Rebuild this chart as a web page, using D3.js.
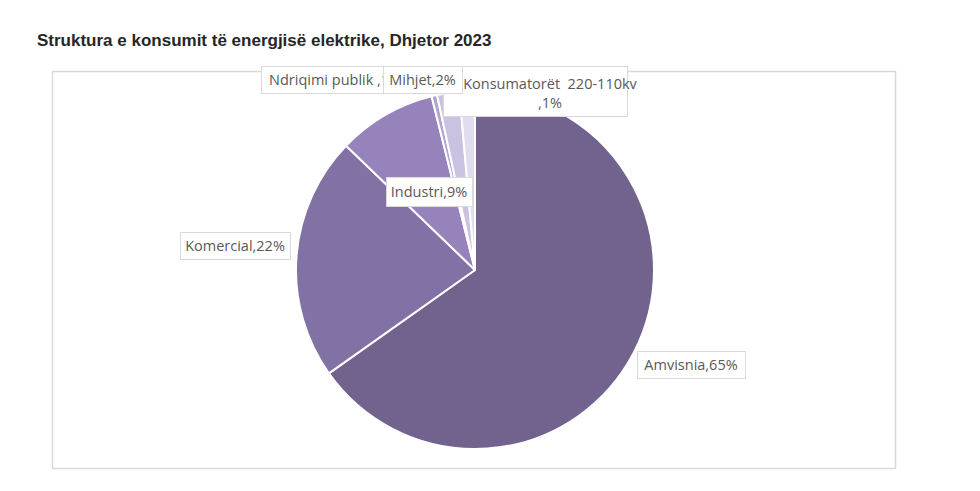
<!DOCTYPE html>
<html>
<head>
<meta charset="utf-8">
<script src="https://cdn.jsdelivr.net/npm/d3@7"></script>
<style>
  body { margin: 0; background: #fff; }
  svg text { font-family: "Open Sans", sans-serif; white-space: pre; }
</style>
</head>
<body>
<div id="viz"></div>
<script>
(function () {
  // data
  var categories = ['Amvisnia', 'Komercial', 'Industri', 'Ndriqimi publik ', 'Mihjet', 'Konsumatorët  220-110kv'];
  var shares = [65.2, 22.0, 8.9, 0.5, 2.0, 1.4];
  var percentLabels = ['65%', '22%', '9%', '1%', '2%', '1%'];

  var colors = ['#72628e', '#8271a5', '#9783bc', '#b2a4d0', '#cbc1e1', '#e1dcee'];

  var width = 980, height = 491;
  var cx = 475, cy = 270, radius = 179;

  // label boxes [x, y, w, h], drawn in this order
  var labelBoxes = {
    0: [637, 351, 108, 27],
    1: [180, 232, 110, 27],
    2: [386, 177, 86, 29],
    3: [261, 66, 130, 27],
    5: [443, 66, 184, 50],
    4: [383, 66, 79, 27]
  };
  var labelOrder = [0, 1, 2, 3, 5, 4];

  var svg = d3.select("#viz")
    .append("svg")
    .attr("width", width)
    .attr("height", height);

  // the Mihjet box hides the end of the Ndriqimi label
  svg.append("defs").append("clipPath")
    .attr("id", "clipNdr")
    .append("rect")
    .attr("x", 261).attr("y", 60).attr("width", 122).attr("height", 40);

  svg.append("text")
    .attr("x", 37)
    .attr("y", 46)
    .style("font-family", "'Liberation Sans', Arial, sans-serif")
    .style("font-weight", "bold")
    .style("font-size", "17px")
    .attr("fill", "#262626")
    .text("Struktura e konsumit të energjisë elektrike, Dhjetor 2023");

  // plot area frame
  svg.append("rect")
    .attr("x", 52.5)
    .attr("y", 71.5)
    .attr("width", 843)
    .attr("height", 397)
    .attr("fill", "none")
    .attr("stroke", "#d9d9d9")
    .attr("stroke-width", 1.5);

  var pie = d3.pie().sort(null).value(function (d) { return d; });
  var arc = d3.arc().innerRadius(0).outerRadius(radius);

  svg.append("g")
    .attr("transform", "translate(" + cx + "," + cy + ")")
    .selectAll("path")
    .data(pie(shares))
    .enter().append("path")
    .attr("d", arc)
    .attr("fill", function (d, i) { return colors[i]; })
    .attr("stroke", "#fff")
    .attr("stroke-width", 2)
    .attr("stroke-linejoin", "round");

  var labels = svg.append("g");
  labelOrder.forEach(function (i) {
    var b = labelBoxes[i];
    var g = labels.append("g");
    g.append("rect")
      .attr("x", b[0] + 0.5)
      .attr("y", b[1] + 0.5)
      .attr("width", b[2])
      .attr("height", b[3])
      .attr("fill", "#fff")
      .attr("stroke", "#d9d9d9")
      .attr("stroke-width", 1);
    var t = g.append("text")
      .attr("fill", "#595959")
      .style("font-size", "14.5px");
    if (i == 5) {
      t.attr("text-anchor", "middle");
      t.append("tspan").attr("x", 550).attr("y", b[1] + 23).text(categories[i]);
      t.append("tspan").attr("x", 550).attr("y", b[1] + 42).text(',' + percentLabels[i]);
    } else if (i == 3) {
      t.attr("x", b[0] + 8).attr("y", b[1] + 19)
        .attr("clip-path", "url(#clipNdr)")
        .text(categories[i] + ',' + percentLabels[i]);
    } else {
      t.attr("text-anchor", "middle")
        .attr("x", b[0] + b[2] / 2)
        .attr("y", b[1] + b[3] / 2 + 5)
        .text(categories[i] + ',' + percentLabels[i]);
    }
  });
})();
</script>
</body>
</html>
